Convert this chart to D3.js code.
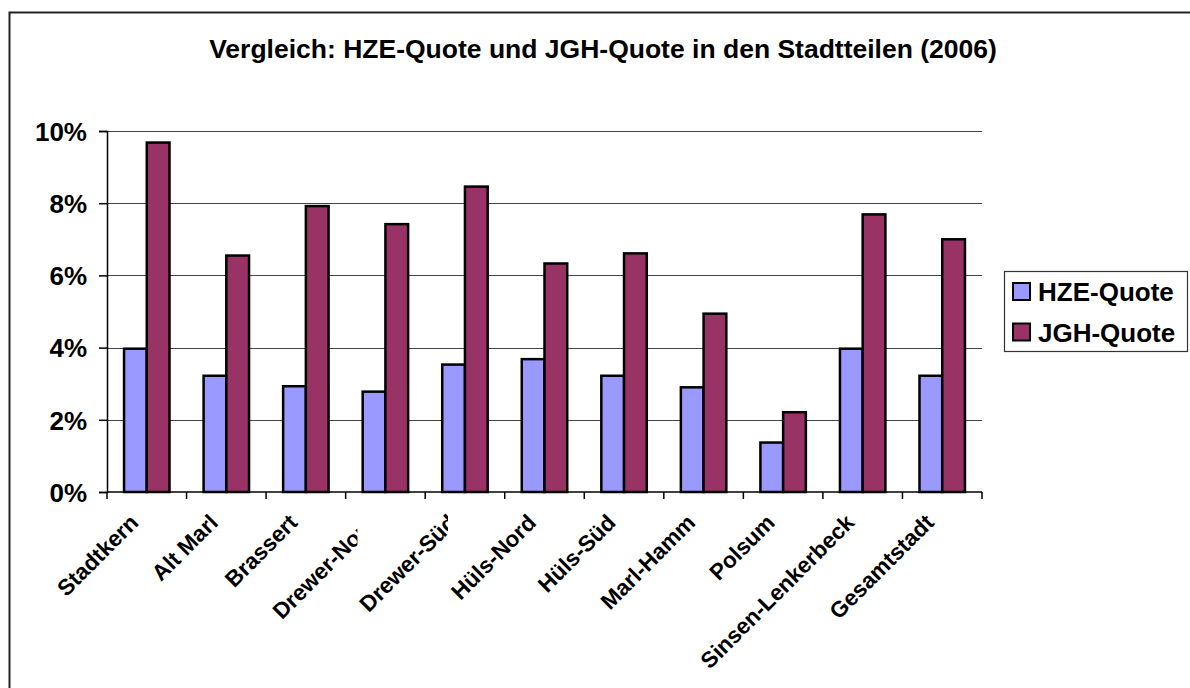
<!DOCTYPE html>
<html>
<head>
<meta charset="utf-8">
<script src="https://cdn.jsdelivr.net/npm/d3@7"></script>
<style>
  html, body { margin: 0; padding: 0; background: #fff; }
  svg { display: block; font-family: "Liberation Sans", Arial, sans-serif; }
</style>
</head>
<body>
<svg id="chart" width="1190" height="688"></svg>
<script>
// Stadtteile and the two quotas (as fractions)
const districts = ["Stadtkern", "Alt Marl", "Brassert", "Drewer-Nord", "Drewer-Süd",
                   "Hüls-Nord", "Hüls-Süd", "Marl-Hamm", "Polsum", "Sinsen-Lenkerbeck", "Gesamtstadt"];
const hzeQuote = [0.0397, 0.0322, 0.0293, 0.0278, 0.0353, 0.0368, 0.0322, 0.0290, 0.0137, 0.0397, 0.0322];
const jghQuote = [0.0968, 0.0655, 0.0792, 0.0742, 0.0846, 0.0633, 0.0661, 0.0494, 0.0221, 0.0769, 0.0700];
const seriesNames = ["HZE-Quote", "JGH-Quote"];
const seriesColors = ["#9999FF", "#993366"];
const yTicks = [0, 0.02, 0.04, 0.06, 0.08, 0.10];
const titleText = "Vergleich: HZE-Quote und JGH-Quote in den Stadtteilen (2006)";

// Category labels that the axis cuts off on the right (px left of the category centre)
const labelCut = { "Drewer-Nord": 28, "Drewer-Süd": 17 };

const svg = d3.select("#chart");
const plot = { left: 107, right: 982, top: 131, bottom: 492 };

// outer chart frame
svg.append("rect")
  .attr("x", 9.5).attr("y", 12.5)
  .attr("width", 1300).attr("height", 800)
  .attr("fill", "#fff").attr("stroke", "#222").attr("stroke-width", 2);

// title
svg.append("text")
  .attr("x", 603).attr("y", 58)
  .attr("text-anchor", "middle")
  .attr("font-size", 26.5).attr("font-weight", "bold")
  .text(titleText);

const x0 = d3.scaleBand()
  .domain(districts)
  .range([plot.left, plot.right])
  .paddingInner(1.5 / 3.5)
  .paddingOuter(0.75 / 3.5);

const x1 = d3.scaleBand()
  .domain(seriesNames)
  .range([0, x0.bandwidth()]);

const y = d3.scaleLinear()
  .domain([0, 0.10])
  .range([plot.bottom, plot.top]);

// horizontal gridlines
svg.append("g")
  .selectAll("line")
  .data(yTicks.filter(d => d > 0))
  .join("line")
  .attr("x1", plot.left).attr("x2", plot.right)
  .attr("y1", d => Math.round(y(d)) + 0.5).attr("y2", d => Math.round(y(d)) + 0.5)
  .attr("stroke", "#444").attr("stroke-width", 1);

// bars
const rows = districts.map((d, i) => ({ district: d, values: [hzeQuote[i], jghQuote[i]] }));
const groups = svg.append("g")
  .selectAll("g")
  .data(rows)
  .join("g")
  .attr("transform", d => `translate(${x0(d.district)},0)`);

groups.selectAll("rect")
  .data(d => d.values.map((v, k) => ({ key: seriesNames[k], value: v, k })))
  .join("rect")
  .attr("x", d => x1(d.key))
  .attr("y", d => y(d.value))
  .attr("width", x1.bandwidth())
  .attr("height", d => plot.bottom - y(d.value))
  .attr("fill", d => seriesColors[d.k])
  .attr("stroke", "#000")
  .attr("stroke-width", 2.5);

// y axis
const yAxis = d3.axisLeft(y)
  .tickValues(yTicks)
  .tickFormat(d3.format(".0%"))
  .tickSize(8)
  .tickPadding(12);
const gy = svg.append("g")
  .attr("transform", `translate(${plot.left},0)`)
  .call(yAxis);
gy.select(".domain").attr("stroke", "#000").attr("stroke-width", 1.5);
gy.selectAll(".tick line").attr("stroke", "#000").attr("stroke-width", 1.5);
gy.selectAll(".tick text")
  .attr("font-size", 26).attr("font-weight", "bold")
  .attr("font-family", "Liberation Sans, Arial, sans-serif")
  .attr("fill", "#000").attr("dy", "0.36em");

// x axis: ticks sit on the category boundaries
const step = x0.step();
const boundaries = d3.range(districts.length + 1).map(i => plot.left + i * step);
const gx = svg.append("g");
gx.append("line")
  .attr("x1", plot.left).attr("x2", plot.right)
  .attr("y1", plot.bottom).attr("y2", plot.bottom)
  .attr("stroke", "#000").attr("stroke-width", 1.5);
gx.selectAll("line.tick")
  .data(boundaries)
  .join("line")
  .attr("class", "tick")
  .attr("x1", d => d).attr("x2", d => d)
  .attr("y1", plot.bottom).attr("y2", plot.bottom + 7)
  .attr("stroke", "#000").attr("stroke-width", 1.5);

// rotated category labels
const defs = svg.append("defs");
districts.forEach((d, i) => {
  const cx = x0(d) + x0.bandwidth() / 2;
  const label = svg.append("text")
    .attr("transform", `translate(${cx - 7},${plot.bottom + 32}) rotate(-45)`)
    .attr("text-anchor", "end")
    .attr("font-size", 22.5).attr("font-weight", "bold")
    .attr("fill", "#000")
    .text(d);
  if (labelCut[d] !== undefined) {
    const id = "cut" + i;
    defs.append("clipPath").attr("id", id)
      .append("rect")
      .attr("x", 0).attr("y", plot.bottom)
      .attr("width", cx - labelCut[d]).attr("height", 200);
    svg.append("g").attr("clip-path", `url(#${id})`).node().appendChild(label.node());
  }
});

// legend
const legend = svg.append("g");
legend.append("rect")
  .attr("x", 1004.5).attr("y", 271.5)
  .attr("width", 183).attr("height", 80)
  .attr("fill", "#fff").attr("stroke", "#333").attr("stroke-width", 1.2);
seriesNames.forEach((name, k) => {
  const yy = 283 + k * 40.5;
  legend.append("rect")
    .attr("x", 1013).attr("y", yy)
    .attr("width", 17).attr("height", 17)
    .attr("fill", seriesColors[k]).attr("stroke", "#000").attr("stroke-width", 2);
  legend.append("text")
    .attr("x", 1038).attr("y", yy + 18)
    .attr("font-size", 26).attr("font-weight", "bold")
    .text(name);
});
</script>
</body>
</html>
